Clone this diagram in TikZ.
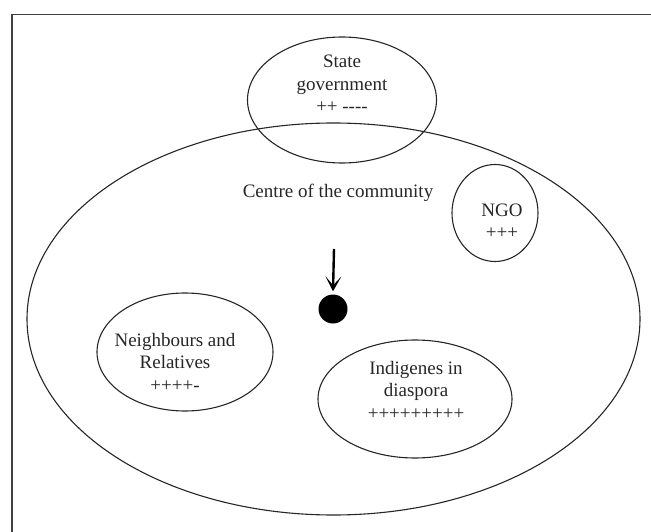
\documentclass[tikz,border=0pt]{standalone}
\usepackage{fontspec}
\setmainfont[Ligatures=NoCommon]{Liberation Serif}
\usetikzlibrary{shapes.geometric,arrows.meta}
\begin{document}
\begin{tikzpicture}[x=1pt,y=-1pt,
  oval/.style={draw=black!85, line width=1.1pt, ellipse, inner sep=0pt},
  lbl/.style={align=center, font=\fontsize{19}{22.5}\selectfont, text=black!85, inner sep=0pt},
  frame/.style={draw=black!75, line width=1.6pt}]
\useasboundingbox (0,0) rectangle (651,532);
% partial frame (top and left only)
\coordinate (ftr) at (651,14.5);
\coordinate (ftl) at (12,14.5);
\coordinate (fbl) at (12,532);
\draw[frame] (ftr) -- (ftl) -- (fbl);
% outer community ellipse
\node[oval, minimum width=613, minimum height=392] (comm) at (333.5,319) {};
% state government
\node[oval, minimum width=189, minimum height=126] (state) at (342,100) {};
\node[lbl] (statet) at (342,84) {State\\government\\++ {-}{-}{-}{-}};
% centre label
\node[lbl] (centre) at (338,193) {Centre of the community};
% NGO
\node[oval, minimum width=86, minimum height=97] (ngo) at (495,213) {};
\node[lbl] (ngot) at (502,221) {NGO\\+++};
% neighbours
\node[oval, minimum width=176, minimum height=118] (neigh) at (185,352) {};
\node[lbl] (neight) at (175,362) {Neighbours and\\Relatives\\++++-};
% indigenes
\node[oval, minimum width=194, minimum height=118] (indig) at (415,399) {};
\node[lbl] (indigt) at (416,390) {Indigenes in\\diaspora\\+++++++++};
% centre dot and arrow
\node[circle, fill=black, minimum size=29, inner sep=0pt] (dot) at (333,309) {};
\coordinate (arrtop) at (334,249);
\draw[line width=2.4pt, -{Stealth[length=15pt,width=16pt,inset=9pt]}] (arrtop) -- ([yshift=3pt]dot.north);
\end{tikzpicture}
\end{document}
